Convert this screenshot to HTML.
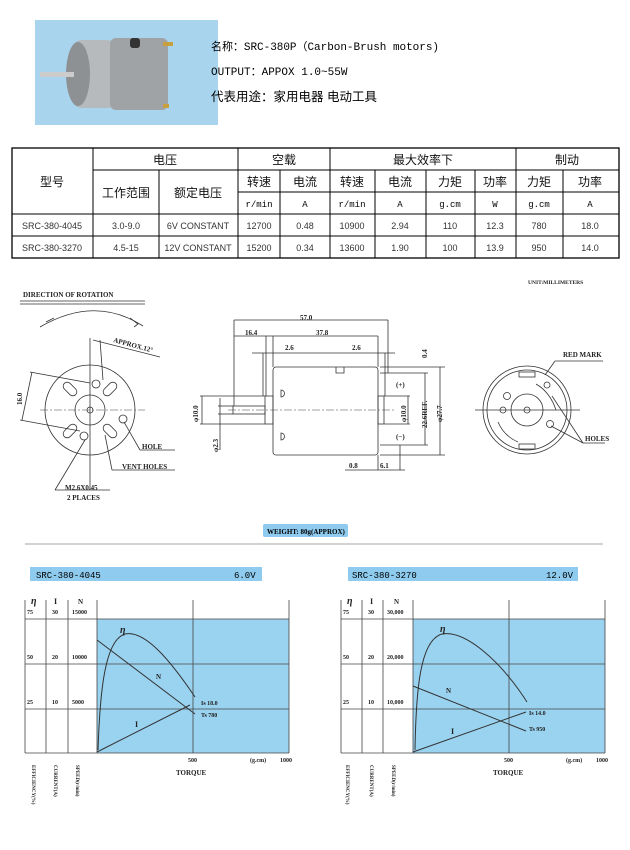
<!DOCTYPE html>
<html><head><meta charset="utf-8"><style>
body{margin:0;background:#fff;}
svg{display:block;}
svg text{font-family:"Liberation Serif","Noto Serif CJK SC",serif;}
svg .cj, svg .cj text{font-family:"Liberation Sans","Noto Sans CJK SC",sans-serif;}
svg .mono, svg .mono text{font-family:"Liberation Mono","Noto Sans CJK SC",monospace;}
.d{stroke:#333;stroke-width:0.8;fill:none;}
.c{stroke:#444;stroke-width:0.6;stroke-dasharray:8 2 2 2;fill:none;}
</style></head><body>
<svg width="630" height="850" viewBox="0 0 630 850" xmlns="http://www.w3.org/2000/svg">
<!-- photo -->
<rect x="35" y="20" width="183" height="105" fill="#a8d4ee"/>
<rect x="72" y="40" width="45" height="68" fill="#b7babd" rx="10"/>
<rect x="110" y="38" width="58" height="72" fill="#a0a3a6" rx="6"/>
<ellipse cx="78" cy="74" rx="12" ry="32" fill="#8e9194"/>
<rect x="40" y="72" width="34" height="5" fill="#ccc"/>
<rect x="163" y="42" width="10" height="4" fill="#c8a040"/>
<rect x="163" y="104" width="6" height="4" fill="#c8a040"/>
<rect x="130" y="38" width="10" height="10" fill="#333" rx="3"/>
<text x="211" y="50" font-size="11" class="mono" textLength="228">名称：SRC-380P（Carbon-Brush motors)</text>
<text x="211" y="75" font-size="11" class="mono">OUTPUT：APPOX 1.0~55W</text>
<text x="211" y="101" font-size="12.5" class="cj">代表用途：家用电器 电动工具</text>

<!-- table -->
<g stroke="#000" stroke-width="1" fill="none">
<rect x="12" y="148" width="607" height="110" stroke-width="1.3"/>
<line x1="93" y1="170" x2="619" y2="170"/>
<line x1="238" y1="192" x2="619" y2="192"/>
<line x1="12" y1="214" x2="619" y2="214"/>
<line x1="12" y1="236" x2="619" y2="236"/>
<line x1="93" y1="148" x2="93" y2="258"/>
<line x1="159" y1="170" x2="159" y2="258"/>
<line x1="238" y1="148" x2="238" y2="258"/>
<line x1="280" y1="170" x2="280" y2="258"/>
<line x1="330" y1="148" x2="330" y2="258"/>
<line x1="375" y1="170" x2="375" y2="258"/>
<line x1="426" y1="170" x2="426" y2="258"/>
<line x1="475" y1="170" x2="475" y2="258"/>
<line x1="516" y1="148" x2="516" y2="258"/>
<line x1="563" y1="170" x2="563" y2="258"/>
</g>
<g class="cj" font-size="12" text-anchor="middle" fill="#111">
<text x="52" y="186">型号</text>
<text x="165" y="164">电压</text><text x="284" y="164">空载</text><text x="423" y="164">最大效率下</text><text x="567" y="164">制动</text>
<text x="126" y="197">工作范围</text><text x="198" y="197">额定电压</text>
<text x="259" y="186">转速</text><text x="305" y="186">电流</text><text x="352" y="186">转速</text><text x="400" y="186">电流</text><text x="450" y="186">力矩</text><text x="495" y="186">功率</text><text x="539" y="186">力矩</text><text x="590" y="186">功率</text>
</g>
<g class="mono" font-size="9" text-anchor="middle">
<text x="259" y="207">r/min</text><text x="305" y="207">A</text><text x="352" y="207">r/min</text><text x="400" y="207">A</text><text x="450" y="207">g.cm</text><text x="495" y="207">W</text><text x="539" y="207">g.cm</text><text x="590" y="207">A</text>
</g>
<g class="cj" font-size="9" text-anchor="middle" fill="#333">
<text x="52" y="229">SRC-380-4045</text><text x="126" y="229">3.0-9.0</text><text x="198" y="229">6V CONSTANT</text><text x="259" y="229">12700</text><text x="305" y="229">0.48</text><text x="352" y="229">10900</text><text x="400" y="229">2.94</text><text x="450" y="229">110</text><text x="495" y="229">12.3</text><text x="539" y="229">780</text><text x="590" y="229">18.0</text>
<text x="52" y="251">SRC-380-3270</text><text x="126" y="251">4.5-15</text><text x="198" y="251">12V CONSTANT</text><text x="259" y="251">15200</text><text x="305" y="251">0.34</text><text x="352" y="251">13600</text><text x="400" y="251">1.90</text><text x="450" y="251">100</text><text x="495" y="251">13.9</text><text x="539" y="251">950</text><text x="590" y="251">14.0</text>
</g>

<!-- drawings -->
<g font-size="7" font-weight="bold" fill="#222">
<text x="23" y="297">DIRECTION OF ROTATION</text>
<text x="528" y="284" font-size="5.5">UNIT:MILLIMETERS</text>
<text x="113" y="342" transform="rotate(15 113 342)">APPROX.12°</text>
<text x="22" y="405" transform="rotate(-90 22 405)">16.0</text>
<text x="142" y="449">HOLE</text>
<text x="122" y="469">VENT HOLES</text>
<text x="65" y="490">M2.6X0.45</text>
<text x="67" y="500">2 PLACES</text>
<text x="300" y="320">57.0</text>
<text x="245" y="335">16.4</text><text x="316" y="335">37.8</text>
<text x="285" y="350">2.6</text><text x="352" y="350">2.6</text>
<text x="427" y="358" transform="rotate(-90 427 358)">0.4</text>
<text x="396" y="387">(+)</text><text x="396" y="439">(−)</text>
<text x="198" y="422" transform="rotate(-90 198 422)">φ10.0</text>
<text x="218" y="452" transform="rotate(-90 218 452)">φ2.3</text>
<text x="406" y="422" transform="rotate(-90 406 422)">φ10.0</text>
<text x="427" y="428" transform="rotate(-90 427 428)">22.6REF.</text>
<text x="442" y="422" transform="rotate(-90 442 422)">φ27.7</text>
<text x="349" y="468">0.8</text><text x="380" y="468">6.1</text>
<text x="563" y="357">RED MARK</text>
<text x="585" y="441">HOLES</text>
</g>
<g class="d">
<line x1="20" y1="301" x2="145" y2="301"/><line x1="20" y1="304" x2="145" y2="304"/>
<path d="M40 327 Q95 295 143 326"/><path d="M46 322 l8 -4 M130 318 l8 6 l-4 3"/>
<circle cx="90" cy="410" r="45"/><circle cx="90" cy="410" r="15"/><circle cx="90" cy="410" r="3"/>
<circle cx="96" cy="384" r="4"/><circle cx="84" cy="436" r="4"/><circle cx="123" cy="419" r="4"/>
<rect x="66" y="381" width="8" height="16" rx="4" transform="rotate(-45 70 389)"/>
<rect x="106" y="381" width="8" height="16" rx="4" transform="rotate(45 110 389)"/>
<rect x="66" y="423" width="8" height="16" rx="4" transform="rotate(45 70 431)"/>
<rect x="106" y="423" width="8" height="16" rx="4" transform="rotate(-45 110 431)"/>
<line x1="90" y1="338" x2="90" y2="490"/><line x1="93" y1="340" x2="160" y2="357"/><line x1="100" y1="340" x2="103" y2="380"/>
<line x1="30" y1="372" x2="90" y2="383"/><line x1="20" y1="420" x2="80" y2="431"/><line x1="32" y1="372" x2="22" y2="420"/>
<line x1="124" y1="422" x2="140" y2="450"/><line x1="140" y1="450" x2="175" y2="450"/>
<line x1="105" y1="435" x2="112" y2="470"/><line x1="112" y1="470" x2="175" y2="470"/>
<line x1="85" y1="440" x2="55" y2="490"/><line x1="55" y1="490" x2="110" y2="490"/>
<rect x="273" y="367" width="105" height="88" rx="3"/>
<rect x="265" y="396" width="8" height="28"/>
<rect x="233" y="406" width="32" height="8"/>
<rect x="378" y="396" width="6" height="28"/>
<path d="M336 367 v6 h8 v-6"/>
<path d="M281 390 a3 3 0 0 1 0 7 z M281 433 a3 3 0 0 1 0 7 z"/>
<line x1="380" y1="373" x2="400" y2="373"/><line x1="380" y1="445" x2="400" y2="445"/>
<line x1="234" y1="320" x2="388" y2="320"/><line x1="234" y1="320" x2="234" y2="406"/><line x1="388" y1="320" x2="388" y2="373"/>
<line x1="234" y1="336" x2="378" y2="336"/><line x1="273" y1="336" x2="273" y2="367"/><line x1="378" y1="336" x2="378" y2="367"/><line x1="266" y1="336" x2="266" y2="396"/>
<line x1="252" y1="353" x2="395" y2="353"/><line x1="263" y1="353" x2="263" y2="396"/><line x1="385" y1="353" x2="385" y2="396"/>
<line x1="380" y1="367" x2="445" y2="367"/><line x1="380" y1="455" x2="445" y2="455"/><line x1="440" y1="367" x2="440" y2="455"/>
<line x1="400" y1="373" x2="428" y2="373"/><line x1="400" y1="445" x2="428" y2="445"/><line x1="425" y1="373" x2="425" y2="445"/>
<line x1="384" y1="396" x2="410" y2="396"/><line x1="384" y1="424" x2="410" y2="424"/><line x1="408" y1="396" x2="408" y2="424"/>
<line x1="200" y1="396" x2="265" y2="396"/><line x1="200" y1="424" x2="265" y2="424"/><line x1="202" y1="396" x2="202" y2="424"/>
<line x1="218" y1="406" x2="233" y2="406"/><line x1="218" y1="414" x2="233" y2="414"/><line x1="220" y1="398" x2="220" y2="450"/>
<line x1="378" y1="455" x2="378" y2="470"/><line x1="400" y1="445" x2="400" y2="470"/><line x1="345" y1="470" x2="405" y2="470"/>
<circle cx="527" cy="410" r="44"/><circle cx="527" cy="410" r="40"/><circle cx="527" cy="410" r="16"/><circle cx="527" cy="410" r="3"/>
<circle cx="507" cy="396" r="3.5"/><circle cx="550" cy="424" r="3.5"/><circle cx="503" cy="410" r="3"/><circle cx="547" cy="385" r="3"/>
<rect x="519" y="372" width="16" height="5"/><rect x="519" y="444" width="16" height="5"/>
<path d="M536 384 q14 8 20 26"/><path d="M498 422 q6 14 20 20"/>
<line x1="475" y1="410" x2="580" y2="410"/>
<line x1="545" y1="375" x2="555" y2="361"/><line x1="555" y1="361" x2="603" y2="361"/>
<line x1="552" y1="396" x2="583" y2="443"/><line x1="551" y1="426" x2="583" y2="443"/><line x1="583" y1="443" x2="605" y2="443"/>
</g>
<g class="c"><line x1="40" y1="410" x2="145" y2="410"/><line x1="228" y1="410" x2="395" y2="410"/></g>
<rect x="263" y="524" width="85" height="13" rx="2" fill="#8ecbee"/>
<text x="267" y="534" font-size="7" font-weight="bold">WEIGHT: 80g(APPROX)</text>
<line x1="25" y1="544" x2="603" y2="544" stroke="#888" stroke-width="0.8"/>

<!-- chart 1 -->
<g>
<rect x="30" y="567" width="232" height="14" fill="#8ecbee"/>
<text x="36" y="578" font-size="9" class="mono">SRC-380-4045</text><text x="234" y="578" font-size="9" class="mono">6.0V</text>
<rect x="97" y="619" width="192" height="134" fill="#9ad3f0"/>
<g stroke="#444" stroke-width="0.8">
<line x1="25" y1="600" x2="25" y2="753"/><line x1="46" y1="600" x2="46" y2="753"/><line x1="68" y1="600" x2="68" y2="753"/><line x1="97" y1="600" x2="97" y2="753"/><line x1="193" y1="600" x2="193" y2="753"/><line x1="289" y1="600" x2="289" y2="753"/>
<line x1="25" y1="619" x2="289" y2="619"/><line x1="25" y1="664" x2="289" y2="664"/><line x1="25" y1="709" x2="289" y2="709"/><line x1="25" y1="753" x2="289" y2="753"/>
</g>
<g stroke="#333" stroke-width="1" fill="none">
<path d="M98 750 C100 690 105 640 125 634 C145 630 170 660 195 697"/>
<line x1="97" y1="640" x2="195" y2="714"/><line x1="97" y1="752" x2="190" y2="705"/>
</g>
<g font-size="6" font-weight="bold" fill="#222">
<text x="31" y="604" font-size="10" font-style="italic">η</text><text x="54" y="604" font-size="8">I</text><text x="78" y="604" font-size="7">N</text>
<text x="27" y="614">75</text><text x="52" y="614">30</text><text x="72" y="614">15000</text>
<text x="27" y="659">50</text><text x="52" y="659">20</text><text x="72" y="659">10000</text>
<text x="27" y="704">25</text><text x="52" y="704">10</text><text x="72" y="704">5000</text>
<text x="120" y="633" font-size="10" font-style="italic">η</text><text x="156" y="679" font-size="7">N</text><text x="135" y="727" font-size="8">I</text>
<text x="201" y="705">Is 18.0</text><text x="201" y="717">Ts 780</text>
<text x="188" y="762">500</text><text x="250" y="762">(g.cm)</text><text x="280" y="762">1000</text>
<text x="176" y="775" font-size="7">TORQUE</text>
<text x="32" y="765" transform="rotate(90 32 765)" font-size="5">EFFICIENCY(%)</text>
<text x="54" y="765" transform="rotate(90 54 765)" font-size="5">CURRENT(A)</text>
<text x="76" y="765" transform="rotate(90 76 765)" font-size="5">SPEED(r/min)</text>
</g>
</g>
<!-- chart 2 -->
<g>
<rect x="348" y="567" width="230" height="14" fill="#8ecbee"/>
<text x="352" y="578" font-size="9" class="mono">SRC-380-3270</text><text x="546" y="578" font-size="9" class="mono">12.0V</text>
<rect x="413" y="619" width="192" height="134" fill="#9ad3f0"/>
<g stroke="#444" stroke-width="0.8">
<line x1="341" y1="600" x2="341" y2="753"/><line x1="362" y1="600" x2="362" y2="753"/><line x1="383" y1="600" x2="383" y2="753"/><line x1="413" y1="600" x2="413" y2="753"/><line x1="509" y1="600" x2="509" y2="753"/><line x1="605" y1="600" x2="605" y2="753"/>
<line x1="341" y1="619" x2="605" y2="619"/><line x1="341" y1="664" x2="605" y2="664"/><line x1="341" y1="709" x2="605" y2="709"/><line x1="341" y1="753" x2="605" y2="753"/>
</g>
<g stroke="#333" stroke-width="1" fill="none">
<path d="M415 750 C416 690 420 640 442 634 C465 630 500 660 527 702"/>
<line x1="413" y1="686" x2="526" y2="731"/><line x1="413" y1="752" x2="526" y2="712"/>
</g>
<g font-size="6" font-weight="bold" fill="#222">
<text x="347" y="604" font-size="10" font-style="italic">η</text><text x="370" y="604" font-size="8">I</text><text x="394" y="604" font-size="7">N</text>
<text x="343" y="614">75</text><text x="368" y="614">30</text><text x="387" y="614">30,000</text>
<text x="343" y="659">50</text><text x="368" y="659">20</text><text x="387" y="659">20,000</text>
<text x="343" y="704">25</text><text x="368" y="704">10</text><text x="387" y="704">10,000</text>
<text x="440" y="632" font-size="10" font-style="italic">η</text><text x="446" y="693" font-size="7">N</text><text x="451" y="734" font-size="8">I</text>
<text x="529" y="715">Is 14.0</text><text x="529" y="731">Ts 950</text>
<text x="504" y="762">500</text><text x="566" y="762">(g.cm)</text><text x="596" y="762">1000</text>
<text x="493" y="775" font-size="7">TORQUE</text>
<text x="346" y="765" transform="rotate(90 346 765)" font-size="5">EFFICIENCY(%)</text>
<text x="370" y="765" transform="rotate(90 370 765)" font-size="5">CURRENT(A)</text>
<text x="392" y="765" transform="rotate(90 392 765)" font-size="5">SPEED(r/min)</text>
</g>
</g>
</svg>
</body></html>
